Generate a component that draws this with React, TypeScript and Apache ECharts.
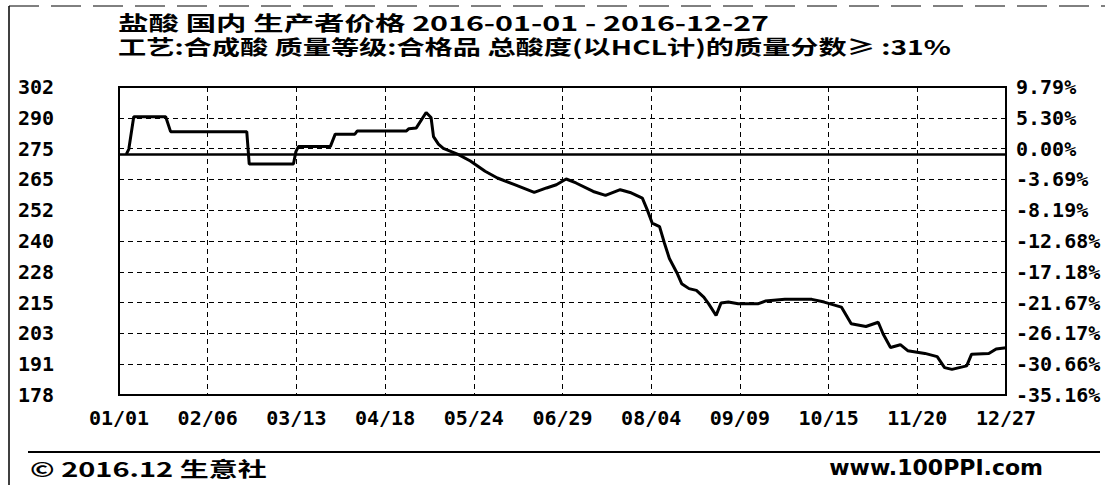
import React, { useEffect, useRef } from "react";
import * as echarts from "echarts";

const titleText = "盐酸 国内 生产者价格 2016-01-01 - 2016-12-27";
const subtitleText = "工艺:合成酸 质量等级:合格品 总酸度(以HCL计)的质量分数≥ :31%";
const footerLeft = "© 2016.12 生意社";
const footerRight = "www.100PPI.com";

const xLabels = ["01/01", "02/06", "03/13", "04/18", "05/24", "06/29", "08/04", "09/09", "10/15", "11/20", "12/27"];
const leftLabels = ["178", "191", "203", "215", "228", "240", "252", "265", "275", "290", "302"];
const rightLabels = ["-35.16%", "-30.66%", "-26.17%", "-21.67%", "-17.18%", "-12.68%", "-8.19%", "-3.69%", "0.00%", "5.30%", "9.79%"];

const priceMin = 178.31;
const priceMax = 301.92;
const baseline = 275;
const dateStart = "2016-01-01";
const dateEnd = "2016-12-27";

const dates = [
  "2016-01-04", "2016-01-05", "2016-01-07", "2016-01-20", "2016-01-22", "2016-02-22", "2016-02-23",
  "2016-03-12", "2016-03-13", "2016-03-14", "2016-03-27", "2016-03-29", "2016-04-06", "2016-04-07",
  "2016-04-27", "2016-04-28", "2016-05-01", "2016-05-05", "2016-05-07", "2016-05-08", "2016-05-10",
  "2016-05-12", "2016-05-18", "2016-05-23", "2016-05-29", "2016-06-03", "2016-06-10", "2016-06-18",
  "2016-06-23", "2016-06-27", "2016-07-01", "2016-07-05", "2016-07-12", "2016-07-17", "2016-07-23",
  "2016-07-27", "2016-08-01", "2016-08-03", "2016-08-05", "2016-08-08", "2016-08-10", "2016-08-12",
  "2016-08-15", "2016-08-17", "2016-08-20", "2016-08-23", "2016-08-26", "2016-08-28", "2016-08-31",
  "2016-09-02", "2016-09-05", "2016-09-09", "2016-09-17", "2016-09-20", "2016-09-28", "2016-10-09",
  "2016-10-14", "2016-10-21", "2016-10-25", "2016-10-31", "2016-11-05", "2016-11-07", "2016-11-10",
  "2016-11-14", "2016-11-17", "2016-11-24", "2016-11-29", "2016-12-02", "2016-12-05", "2016-12-11",
  "2016-12-13", "2016-12-20", "2016-12-23", "2016-12-27",
];
const prices = [
  275, 277, 290, 290, 284, 284, 271,
  271, 276, 278, 278, 283, 283, 284.3,
  284.3, 285.2, 285.5, 291.7, 289.7, 282, 279,
  277.3, 274.9, 272.2, 268.1, 265.4, 262.7, 259.6,
  261.4, 262.7, 265.0, 263.4, 260.0, 258.4, 260.7,
  259.6, 257.3, 252.6, 247.3, 245.9, 239.2, 233.1,
  227.5, 223.0, 221.0, 220.3, 217.6, 214.9, 210.2,
  215.2, 215.6, 214.9, 214.9, 216.0, 216.7, 216.7,
  215.6, 213.6, 206.9, 205.8, 207.5, 202.8, 197.4,
  198.5, 196.1, 195.0, 193.7, 189.3, 188.6, 190.0,
  194.7, 195.0, 196.8, 197.3,
];

const axisFont = {
  fontFamily: "DejaVu Sans Mono",
  fontWeight: "bold" as const,
  fontSize: 20,
  color: "#000",
};

const gridDash = { color: "#000", width: 1, type: [5, 4] as number[] };

export default function App() {
  const ref = useRef<HTMLDivElement>(null);
  useEffect(() => {
    if (!ref.current) return;
    const chart = echarts.init(ref.current, undefined, { renderer: "svg" });
    const seriesData = dates.map((d, i) => [d, prices[i]]);
    chart.setOption({
      animation: false,
      backgroundColor: "#fff",
      grid: {
        left: 119,
        right: 99,
        top: 87,
        bottom: 90,
        show: true,
        borderColor: "#000",
        borderWidth: 2,
        backgroundColor: "transparent",
      },
      xAxis: [
        { type: "time", min: dateStart, max: dateEnd, show: false },
        {
          type: "value",
          min: 0,
          max: 10,
          interval: 1,
          position: "bottom",
          axisLine: { show: false },
          axisTick: { show: false },
          splitLine: { show: true, lineStyle: gridDash },
          axisLabel: { ...axisFont, margin: 13, formatter: (v: number) => xLabels[Math.round(v)] ?? "" },
        },
      ],
      yAxis: [
        { type: "value", min: priceMin, max: priceMax, show: false },
        {
          type: "value",
          min: 0,
          max: 10,
          interval: 1,
          position: "left",
          axisLine: { show: false },
          axisTick: { show: false },
          splitLine: { show: true, lineStyle: gridDash },
          axisLabel: { ...axisFont, align: "left", margin: 101, formatter: (v: number) => leftLabels[Math.round(v)] ?? "" },
        },
        {
          type: "value",
          min: 0,
          max: 10,
          interval: 1,
          position: "right",
          axisLine: { show: false },
          axisTick: { show: false },
          splitLine: { show: false },
          axisLabel: { ...axisFont, align: "left", margin: 10, formatter: (v: number) => rightLabels[Math.round(v)] ?? "" },
        },
      ],
      series: [
        {
          type: "line",
          xAxisIndex: 0,
          yAxisIndex: 0,
          data: seriesData,
          symbol: "none",
          lineStyle: { color: "#000", width: 3 },
          markLine: {
            silent: true,
            symbol: "none",
            label: { show: false },
            lineStyle: { color: "#000", width: 2.5, type: "solid" },
            data: [{ yAxis: baseline }],
          },
        },
      ],
      graphic: [
        {
          type: "text",
          x: 118,
          y: 22,
          scaleX: 1.52,
          style: { text: titleText, font: "bold 20px 'Noto Sans CJK SC'", fill: "#000", verticalAlign: "middle" },
        },
        {
          type: "text",
          x: 118,
          y: 46,
          scaleX: 1.41,
          style: { text: subtitleText, font: "bold 20px 'Noto Sans CJK SC'", fill: "#000", verticalAlign: "middle" },
        },
        { type: "line", shape: { x1: 9, y1: 6, x2: 1105, y2: 6 }, style: { stroke: "#000", lineWidth: 1, lineDash: [30, 12] } },
        { type: "line", shape: { x1: 9, y1: 6, x2: 9, y2: 485 }, style: { stroke: "#000", lineWidth: 1.5 } },
        { type: "line", shape: { x1: 28, y1: 452, x2: 1100, y2: 452 }, style: { stroke: "#000", lineWidth: 2 } },
        {
          type: "text",
          x: 30,
          y: 468,
          scaleX: 1.45,
          style: { text: footerLeft, font: "bold 20px 'Noto Sans CJK SC'", fill: "#000", verticalAlign: "middle" },
        },
        {
          type: "text",
          x: 1043,
          y: 467,
          style: { text: footerRight, font: "bold 22px 'DejaVu Sans'", fill: "#000", align: "right", verticalAlign: "middle" },
        },
      ],
    });
    return () => chart.dispose();
  }, []);
  return <div ref={ref} style={{ position: "fixed", left: 0, top: 0, width: 1105, height: 485 }} />;
}
